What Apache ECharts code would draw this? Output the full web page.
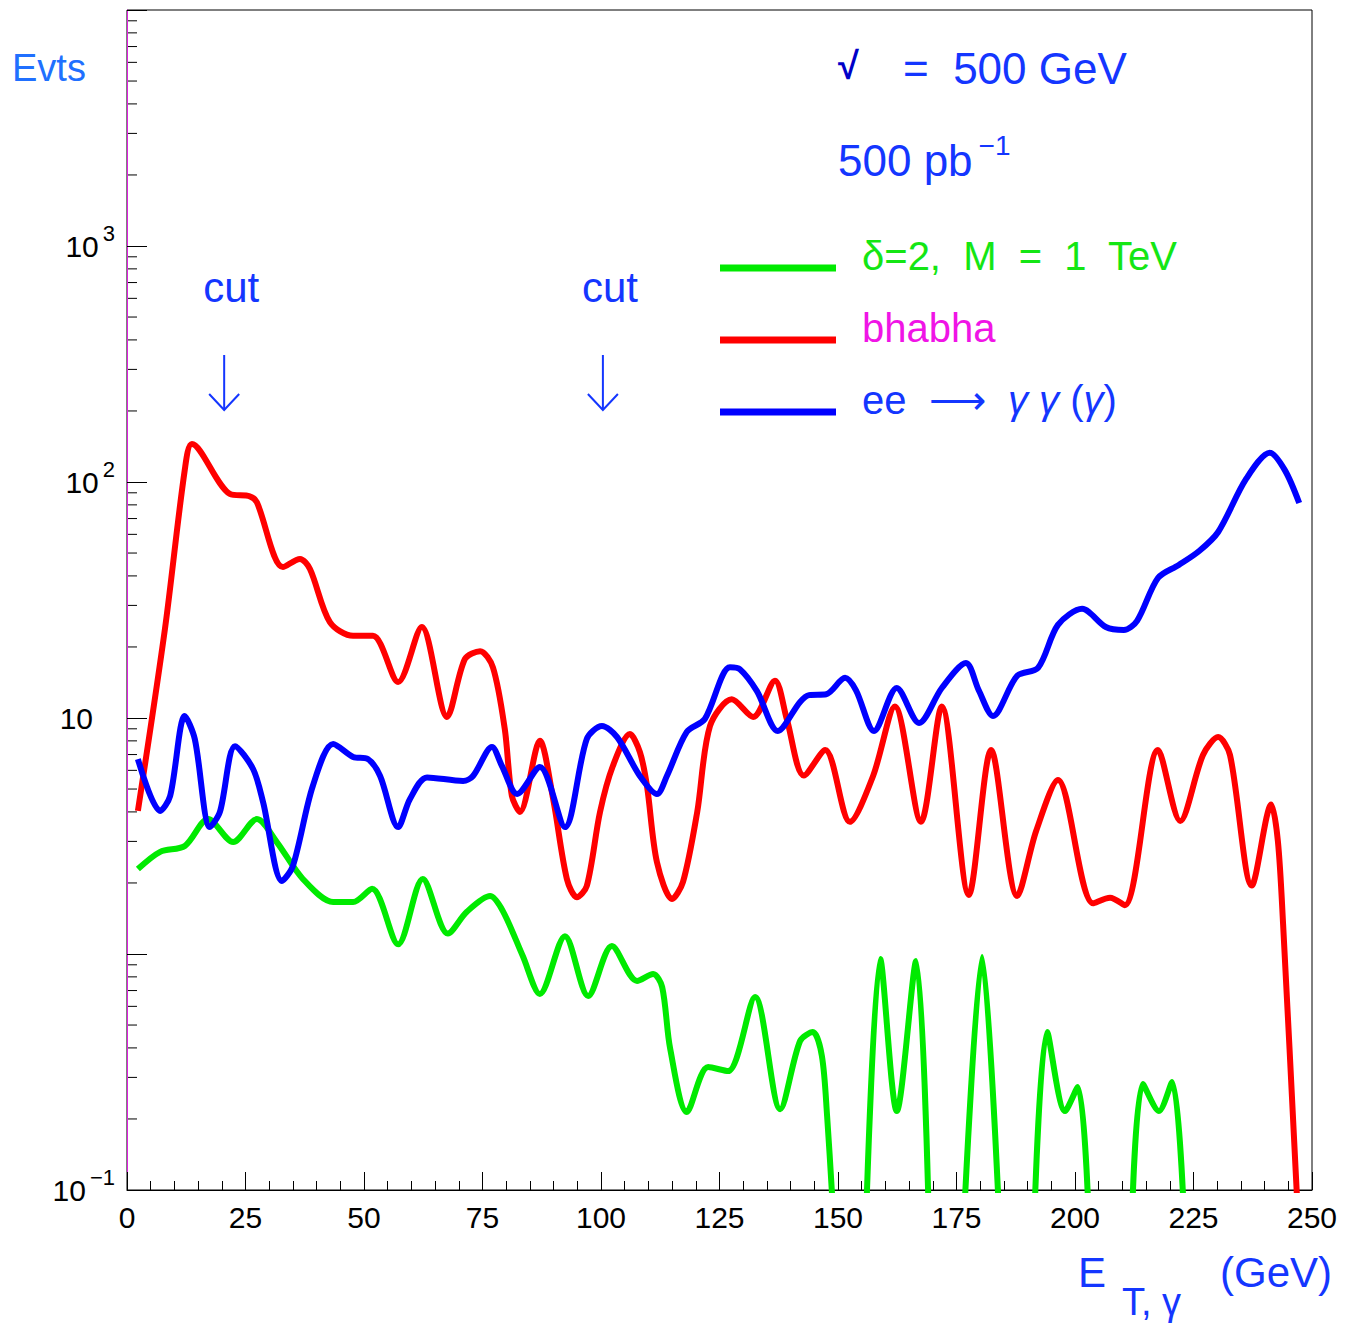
<!DOCTYPE html>
<html>
<head>
<meta charset="utf-8">
<title>Evts vs E_T,gamma</title>
<script src="https://cdn.jsdelivr.net/npm/echarts@6/dist/echarts.min.js"></script>
<style>
html, body { margin: 0; padding: 0; background: #fff; }
#chart { width: 1356px; height: 1329px; }
</style>
</head>
<body>
<div id="chart"></div>
<script>
// signal: delta=2, M = 1 TeV  (null = no events, below the axis)
const sigE = [2.3, 7.0, 12.2, 17.1, 22.4, 27.4, 31.6, 37.1, 43.5, 47.7, 51.7, 57.2, 62.4, 67.7, 71.7,
  76.6, 79.3, 83.5, 87.1, 92.4, 97.3, 102.3, 107.6, 111.0, 112.9, 114.6, 118.1, 122.6, 126.8, 132.5,
  137.8, 142.0, 144.7, 146.6, 147.7, 148.9, 152, 156.0, 158.9, 162.4, 166.5, 169.1, 173, 176.7, 180.4,
  183.9, 188, 191.5, 194.1, 197.9, 200.6, 202.8, 207, 212.1, 214.3, 217.7, 220.5, 222.9];
const sigN = [2.29, 2.71, 2.87, 3.73, 2.98, 3.73, 2.98, 2.08, 1.66, 1.66, 1.89, 1.10, 2.08, 1.22, 1.51,
  1.76, 1.52, 0.98, 0.677, 1.19, 0.664, 1.08, 0.769, 0.823, 0.725, 0.396, 0.214, 0.332, 0.319, 0.657,
  0.22, 0.428, 0.467, 0.37, 0.206, 0.085, null, 0.085, 0.952, 0.216, 0.934, 0.085, null, 0.085, 0.971,
  0.085, null, 0.085, 0.467, 0.216, 0.273, 0.085, null, 0.085, 0.281, 0.216, 0.287, 0.085];

// bhabha
const bhaE = [2.3, 8.0, 12.2, 13.7, 21.7, 25.9, 27.4, 32.9, 36.5, 38.6, 42.8, 47.7, 51.9, 57.2, 62.2,
  67.5, 71.3, 74.5, 77.2, 79.7, 81.2, 82.9, 87.1, 89.9, 92.8, 94.9, 97.0, 99.8, 102.5, 106.1,
  108.2, 109.7, 111.8, 115.0, 117.3, 120.3, 123.0, 127.6, 132.1, 136.7, 139.2, 142.8, 147.3, 152.5, 157.4,
  162.0, 167.5, 171.9, 177.6, 182.3, 187.8, 191.8, 196.4, 203.8, 207.4, 210.5, 217.5, 222.2, 227.0, 230.2,
  232.7, 237.3, 241.4, 242.8, 243.9, 247.0];
const bhaN = [4.04, 23.8, 113, 145, 89, 87, 82, 43.6, 47.2, 42.8, 25.5, 22.3, 22.3, 14.2, 24.3,
  10.1, 17.8, 19.2, 16.4, 8.98, 4.67, 4.0, 8.0, 4.54, 2.08, 1.74, 1.94, 4.0, 6.26, 8.55,
  7.18, 5.15, 2.45, 1.71, 2.02, 4.0, 9.25, 12.0, 10.1, 14.4, 9.9, 5.7, 7.32, 3.63, 5.68,
  11.2, 3.63, 11.2, 1.78, 7.32, 1.76, 3.32, 5.46, 1.64, 1.73, 1.61, 7.32, 3.66, 6.97, 8.3,
  6.97, 1.95, 4.3, 3.01, 1.34, 0.08];

// ee -> gamma gamma (gamma)
const ggE = [2.3, 7.0, 9.1, 12.2, 14.3, 17.5, 19.6, 22.8, 26.6, 28.7, 32.7, 35.0, 39.2, 43.5, 47.7,
  50.8, 53.4, 57.2, 59.7, 63.3, 70.9, 73.0, 77.0, 79.1, 82.3, 87.1, 92.4, 97.0, 100.2, 103.4,
  108.2, 111.8, 113.9, 118.1, 121.9, 127.2, 129.3, 132.9, 137.3, 142.0, 143.9, 147.5, 151.5, 153.8, 157.6,
  162.4, 167.1, 171.9, 177.0, 179.7, 182.7, 187.8, 192.2, 196.4, 201.5, 206.5, 210.3, 213.1, 217.5, 221.9,
  226.2, 230.2, 236.1, 241.1, 244.3, 247.3];
const ggN = [6.7, 4.04, 4.67, 10.2, 8.15, 3.45, 4.0, 7.6, 6.08, 4.41, 2.04, 2.36, 5.15, 7.76, 6.84,
  6.7, 5.68, 3.45, 4.54, 5.6, 5.41, 5.68, 7.54, 6.26, 4.76, 6.2, 3.45, 8.15, 9.25, 8.3,
  5.68, 4.76, 5.68, 8.73, 9.9, 16.4, 16.1, 13.0, 8.81, 11.7, 12.5, 12.6, 14.8, 13.1, 8.81,
  13.4, 9.52, 13.4, 17.1, 13.1, 10.2, 15.1, 16.3, 24.8, 29.0, 24.3, 23.6, 25.8, 39.2, 44.5,
  51, 61.4, 103, 133, 112, 81.5];

const cutE = [20.5, 100.4];
const yLabelExp = [-1, 1, 2, 3];   // decades that carry a label
const yMinorMult = [2, 3, 4, 5, 6, 7, 8, 9];
const yDecades = [-1, 0, 1, 2, 3];

const names = ['δ=2,  M  =  1  TeV', 'bhabha', 'ee  ⟶  γ γ (γ)'];
const FONT = '"Liberation Sans", Arial, sans-serif';
const BLUE = '#1436ff';

function pairs(xs, ys) {
  return xs.map((x, i) => [x, ys[i] === null ? '-' : ys[i]]);
}

let chart = echarts.init(document.getElementById('chart'), null, { renderer: 'svg' });

const option = {
  animation: false,
  backgroundColor: '#fff',
  grid: { left: 127, right: 44, top: 10, bottom: 139, show: true, borderColor: '#000', borderWidth: 1 },
  legend: {
    orient: 'vertical',
    left: 720,
    top: 236,
    padding: 0,
    itemGap: 8,
    icon: 'rect',
    itemWidth: 116,
    itemHeight: 7,
    selectedMode: false,
    formatter: function (name) {
      // gamma in italics, text raised a little above the line sample
      return '{p| }' + name.split(/(γ)/).filter(s => s !== '')
        .map(s => s === 'γ' ? '{g|γ}' : '{t|' + s + '}').join('');
    },
    textStyle: {
      fontFamily: FONT,
      fontSize: 40,
      rich: {
        p: { fontFamily: FONT, fontSize: 40, width: 21, lineHeight: 44, padding: [0, 0, 24, 0] },
        t: { fontFamily: FONT, fontSize: 40, lineHeight: 44, padding: [0, 0, 24, 0] },
        g: { fontFamily: FONT, fontSize: 40, fontStyle: 'italic', lineHeight: 44, padding: [0, 0, 24, 0] }
      }
    },
    data: [
      { name: names[0], textStyle: { color: '#14e614' } },
      { name: names[1], textStyle: { color: '#f014e6' } },
      { name: names[2], textStyle: { color: BLUE } }
    ]
  },
  xAxis: {
    type: 'value',
    min: 0,
    max: 250,
    interval: 25,
    axisLine: { lineStyle: { color: '#000', width: 1 } },
    axisTick: { inside: true, length: 18, lineStyle: { color: '#000' } },
    minorTick: { show: true, splitNumber: 5, length: 9, lineStyle: { color: '#000' } },
    splitLine: { show: false },
    axisLabel: { fontFamily: FONT, fontSize: 30, color: '#000', margin: 12 }
  },
  yAxis: {
    type: 'log',
    logBase: 10,
    min: 0.1,
    max: 10000,
    axisLine: { show: true, lineStyle: { color: '#e020e0', width: 1 } },
    axisTick: { inside: true, length: 20, lineStyle: { color: '#000' } },
    splitLine: { show: false },
    axisLabel: {
      margin: 12,
      formatter: function (v) {
        const e = Math.round(Math.log10(v));
        if (yLabelExp.indexOf(e) < 0) return '';
        if (e === 1) return '{b|10}{e| }';
        return '{b|10}{s|' + (e < 0 ? '−' + (-e) : e) + '}';
      },
      rich: {
        b: { fontFamily: FONT, fontSize: 30, color: '#000', verticalAlign: 'middle' },
        s: { fontFamily: FONT, fontSize: 22, color: '#000', verticalAlign: 'middle', padding: [0, 0, 26, 4] },
        e: { fontFamily: FONT, fontSize: 20, width: 22 }
      }
    }
  },
  series: [
    {
      name: names[0], type: 'line', data: pairs(sigE, sigN), smooth: 0.3, symbol: 'none',
      connectNulls: false, itemStyle: { color: '#00ea00' }, lineStyle: { color: '#00ea00', width: 6 }
    },
    {
      name: names[1], type: 'line', data: pairs(bhaE, bhaN), smooth: 0.3, symbol: 'none',
      itemStyle: { color: '#ff0000' }, lineStyle: { color: '#ff0000', width: 6 }
    },
    {
      name: names[2], type: 'line', data: pairs(ggE, ggN), smooth: 0.3, symbol: 'none',
      itemStyle: { color: '#0000ff' }, lineStyle: { color: '#0000ff', width: 6 }
    }
  ]
};
chart.setOption(option);

// minor log ticks, cut arrows and the text annotations
const x0 = chart.convertToPixel({ xAxisIndex: 0 }, 0);
const gfx = [];
yDecades.forEach(d => {
  yMinorMult.forEach(m => {
    const y = chart.convertToPixel({ yAxisIndex: 0 }, m * Math.pow(10, d));
    gfx.push({ type: 'line', shape: { x1: x0, y1: y, x2: x0 + 10, y2: y }, style: { stroke: '#000', lineWidth: 1 } });
  });
});
cutE.forEach(c => {
  const x = chart.convertToPixel({ xAxisIndex: 0 }, c);
  gfx.push({ type: 'line', shape: { x1: x, y1: 355, x2: x, y2: 410 }, style: { stroke: BLUE, lineWidth: 2 } });
  gfx.push({ type: 'polyline', shape: { points: [[x - 15, 394], [x, 410], [x + 15, 394]] }, style: { stroke: BLUE, lineWidth: 2, fill: null } });
  gfx.push({ type: 'text', style: { x: x + 7, y: 287, text: 'cut', fill: BLUE, font: '42px ' + FONT, align: 'center', verticalAlign: 'middle' } });
});
gfx.push(
  { type: 'text', style: { x: 12, y: 68, text: 'Evts', fill: '#2070ff', font: '38px ' + FONT, verticalAlign: 'middle' } },
  { type: 'text', style: { x: 838, y: 66, text: '√', fill: '#0000c8', font: 'bold 38px ' + FONT, verticalAlign: 'middle' } },
  { type: 'text', style: { x: 903, y: 68, text: '=  500 GeV', fill: BLUE, font: '44px ' + FONT, verticalAlign: 'middle' } },
  {
    type: 'text',
    style: {
      x: 838, y: 160, text: '{a|500 pb}{s|−1}', verticalAlign: 'middle',
      rich: {
        a: { fontFamily: FONT, fontSize: 44, fill: BLUE, verticalAlign: 'middle' },
        s: { fontFamily: FONT, fontSize: 28, fill: BLUE, verticalAlign: 'middle', padding: [0, 0, 30, 6] }
      }
    }
  },
  { type: 'text', style: { x: 1078, y: 1272, text: 'E', fill: BLUE, font: '42px ' + FONT, verticalAlign: 'middle' } },
  { type: 'text', style: { x: 1122, y: 1302, text: 'T, γ', fill: BLUE, font: '38px ' + FONT, verticalAlign: 'middle' } },
  { type: 'text', style: { x: 1220, y: 1272, text: '(GeV)', fill: BLUE, font: '42px ' + FONT, verticalAlign: 'middle' } }
);
chart.setOption({ graphic: { elements: gfx } });

window.addEventListener('resize', () => {
  chart.resize();
});
</script>
</body>
</html>
